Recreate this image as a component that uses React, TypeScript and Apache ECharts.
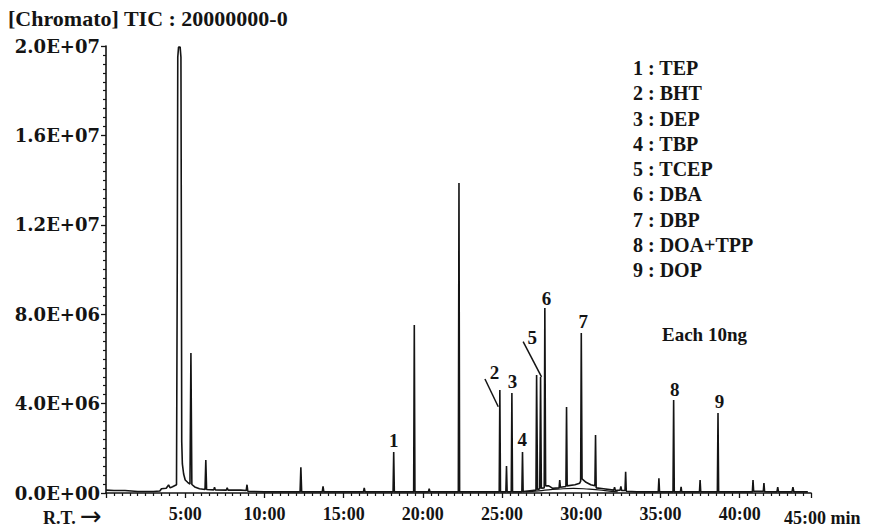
import React, { useEffect, useRef } from "react";
import * as echarts from "echarts";

// Retention time (min) and TIC intensity (x1e6 counts)
const traceTime: number[] = [
  0.0, 0.5, 1.2, 2.0, 3.0, 3.4, 3.5, 3.8, 3.95, 4.05, 4.2, 4.45, 4.5, 4.53, 4.58, 4.68, 4.73, 4.76, 4.78, 4.82,
  4.9, 5.0, 5.15, 5.3, 5.36, 5.42, 5.6, 5.9, 6.25, 6.3, 6.35, 6.8, 6.85, 6.9, 7.6, 7.65, 7.7, 8.5, 8.85, 8.9,
  8.95, 10.0, 12.25, 12.3, 12.35, 13.65, 13.7, 13.75, 16.25, 16.3, 16.35, 18.12, 18.16, 18.2, 19.42, 19.46, 19.5,
  20.35, 20.4, 20.45, 22.24, 22.28, 22.32, 24.82, 24.86, 24.9, 25.24, 25.28, 25.32, 25.58, 25.62, 25.66, 26.25,
  26.29, 26.33, 26.9, 27.14, 27.18, 27.24, 27.38, 27.43, 27.48, 27.66, 27.7, 27.75, 27.95, 28.2, 28.6, 28.64,
  28.68, 29.03, 29.07, 29.11, 29.6, 29.9, 29.96, 30.0, 30.05, 30.3, 30.6, 30.86, 30.9, 30.94, 31.4, 32.05, 32.1,
  32.15, 32.45, 32.5, 32.55, 32.76, 32.8, 32.84, 33.5, 34.86, 34.9, 34.94, 35.79, 35.83, 35.87, 36.26, 36.3,
  36.34, 37.46, 37.5, 37.54, 38.59, 38.63, 38.67, 40.8, 40.84, 40.88, 41.49, 41.53, 41.57, 42.35, 42.4, 42.45,
  43.3, 43.36, 43.42, 44.3,
];
const traceSignal: number[] = [
  0.13, 0.11, 0.11, 0.07, 0.07, 0.09, 0.19, 0.21, 0.36, 0.23, 0.28, 0.37, 10.5, 19.5, 19.95, 19.95, 19.5, 10.5, 2.3, 1.3,
  0.85, 0.58, 0.48, 0.4, 6.26, 0.38, 0.27, 0.19, 0.16, 1.48, 0.16, 0.14, 0.26, 0.14, 0.13, 0.23, 0.13, 0.13, 0.11, 0.37,
  0.08, 0.05, 0.05, 1.15, 0.05, 0.05, 0.3, 0.05, 0.05, 0.23, 0.05, 0.05, 1.83, 0.05, 0.05, 7.52, 0.05,
  0.05, 0.19, 0.05, 0.05, 13.87, 0.05, 0.05, 4.61, 0.05, 0.05, 1.21, 0.05, 0.05, 4.47, 0.05, 0.05,
  1.83, 0.06, 0.11, 0.13, 5.28, 0.16, 0.19, 5.19, 0.21, 0.23, 8.28, 0.32, 0.32, 0.21, 0.23, 0.58,
  0.26, 0.29, 3.85, 0.32, 0.37, 0.44, 0.53, 7.16, 0.63, 0.48, 0.37, 0.32, 2.6, 0.23, 0.19, 0.13, 0.26,
  0.11, 0.13, 0.3, 0.11, 0.11, 0.95, 0.08, 0.05, 0.05, 0.66, 0.05, 0.05, 4.16, 0.05, 0.05, 0.28,
  0.05, 0.05, 0.58, 0.05, 0.05, 3.58, 0.05, 0.05, 0.58, 0.08, 0.08, 0.44, 0.06, 0.05, 0.26, 0.05,
  0.05, 0.26, 0.05, 0.05,
];

// lower baseline drawn under the 27-32 min hump
const humpTime: number[] = [26.5, 27.5, 28.5, 29.5, 30.5, 31.5, 32.3];
const humpSignal: number[] = [0.05, 0.11, 0.17, 0.21, 0.17, 0.11, 0.05];

// peak number labels
const peakNames: string[] = ["1", "2", "3", "4", "5", "6", "7", "8", "9"];
const peakLabelTime: number[] = [18.16, 24.53, 25.66, 26.27, 26.9, 27.8, 30.12, 35.9, 38.73];
const peakLabelSignal: number[] = [2.37, 5.41, 4.98, 2.4, 6.94, 8.71, 7.66, 4.61, 4.08];

// leader lines (label 2 and label 5)
const leaderFrom: [number, number][] = [[23.92, 5.1], [26.33, 6.77]];
const leaderTo: [number, number][] = [[24.76, 3.86], [27.49, 5.2]];

const compoundNames: string[] = ["TEP", "BHT", "DEP", "TBP", "TCEP", "DBA", "DBP", "DOA+TPP", "DOP"];

const xTickValues: number[] = [5, 10, 15, 20, 25, 30, 35, 40];
const yTickValues: number[] = [0, 4, 8, 12, 16, 20];

const SERIF = "'Liberation Serif', 'Times New Roman', serif";
const INK = "#141414";

function fmtExp(v: number): string {
  const s = (v * 1e6).toExponential(1);
  const [m, e] = s.split("e");
  const sign = e[0] === "-" ? "-" : "+";
  const d = e.replace(/[+-]/, "").padStart(2, "0");
  return `${m}E${sign}${d}`;
}

export default function App() {
  const ref = useRef<HTMLDivElement>(null);
  useEffect(() => {
    if (!ref.current) return;
    const chart = echarts.init(ref.current, null, { renderer: "svg" });
    const trace = traceTime.map((t, i) => [t, traceSignal[i]]);
    const hump = humpTime.map((t, i) => [t, humpSignal[i]]);
    const labels = peakNames.map((n, i) => ({ name: n, value: [peakLabelTime[i], peakLabelSignal[i]] }));
    const leaders = leaderFrom.map((f, i) => [{ coord: f }, { coord: leaderTo[i] }]);

    const legendTexts = compoundNames.map((c, i) => ({
      type: "text",
      x: 633,
      y: 68 + i * 25.25,
      style: {
        text: `${i + 1} : ${c}`,
        font: `bold 20px ${SERIF}`,
        fill: INK,
        verticalAlign: "middle",
      },
    }));

    chart.setOption({
      animation: false,
      backgroundColor: "#fff",
      grid: { left: 106, right: 73, top: 46, bottom: 37, containLabel: false },
      xAxis: {
        type: "value",
        min: 0,
        max: 44.5,
        interval: 5,
        axisLine: { show: true, lineStyle: { color: INK, width: 1.6 } },
        axisTick: { show: true, length: 5, lineStyle: { color: INK, width: 1.3 } },
        minorTick: { show: true, splitNumber: 10, length: 3, lineStyle: { color: INK, width: 1.2 } },
        splitLine: { show: false },
        axisLabel: {
          margin: 12,
          showMaxLabel: false,
          color: INK,
          fontFamily: SERIF,
          fontWeight: "bold",
          fontSize: 18,
          formatter: (v: number) => (xTickValues.includes(v) ? `${v}:00` : ""),
        },
      },
      yAxis: {
        type: "value",
        min: 0,
        max: 20,
        interval: 4,
        axisLine: { show: true, lineStyle: { color: INK, width: 1.6 } },
        axisTick: { show: true, length: 5, lineStyle: { color: INK, width: 1.3 } },
        minorTick: { show: true, splitNumber: 10, length: 3, lineStyle: { color: INK, width: 1.2 } },
        splitLine: { show: false },
        axisLabel: {
          margin: 6,
          color: INK,
          fontFamily: "'DejaVu Serif', serif",
          fontWeight: "bold",
          fontSize: 18,
          formatter: (v: number) => (yTickValues.includes(v) ? fmtExp(v) : ""),
        },
      },
      series: [
        {
          type: "line",
          data: trace,
          showSymbol: false,
          symbol: "none",
          lineStyle: { color: INK, width: 1.6 },
          z: 3,
          markLine: {
            silent: true,
            symbol: ["none", "none"],
            label: { show: false },
            lineStyle: { color: INK, width: 1.5, type: "solid" },
            data: leaders,
          },
        },
        {
          type: "line",
          data: hump,
          showSymbol: false,
          symbol: "none",
          smooth: true,
          lineStyle: { color: INK, width: 1.2 },
          z: 2,
        },
        {
          type: "scatter",
          data: labels,
          symbolSize: 0,
          itemStyle: { color: "rgba(0,0,0,0)", opacity: 1 },
          label: {
            show: true,
            position: "inside",
            formatter: (p: any) => p.name,
            color: INK,
            opacity: 1,
            textBorderWidth: 0,
            textBorderColor: "transparent",
            fontFamily: SERIF,
            fontWeight: "bold",
            fontSize: 19,
          },
          z: 4,
        },
      ],
      graphic: [
        {
          type: "text",
          x: 8,
          y: 18,
          style: {
            text: "[Chromato] TIC : 20000000-0",
            font: `bold 22px ${SERIF}`,
            fill: INK,
            verticalAlign: "middle",
          },
        },
        {
          type: "text",
          x: 43,
          y: 518,
          style: { text: "R.T.", font: `bold 18px ${SERIF}`, fill: INK, verticalAlign: "middle" },
        },
        {
          type: "text",
          x: 80,
          y: 516,
          style: { text: "\u2192", font: `26px 'DejaVu Sans', sans-serif`, fill: INK, verticalAlign: "middle" },
        },
        {
          type: "text",
          x: 784,
          y: 518,
          style: { text: "45:00 min", font: `bold 18px ${SERIF}`, fill: INK, verticalAlign: "middle" },
        },
        {
          type: "text",
          x: 662,
          y: 334,
          style: { text: "Each 10ng", font: `bold 19px ${SERIF}`, fill: INK, verticalAlign: "middle" },
        },
        ...legendTexts,
      ],
    });
    return () => chart.dispose();
  }, []);
  return <div ref={ref} style={{ position: "absolute", left: 0, top: 0, width: 884, height: 530 }} />;
}
